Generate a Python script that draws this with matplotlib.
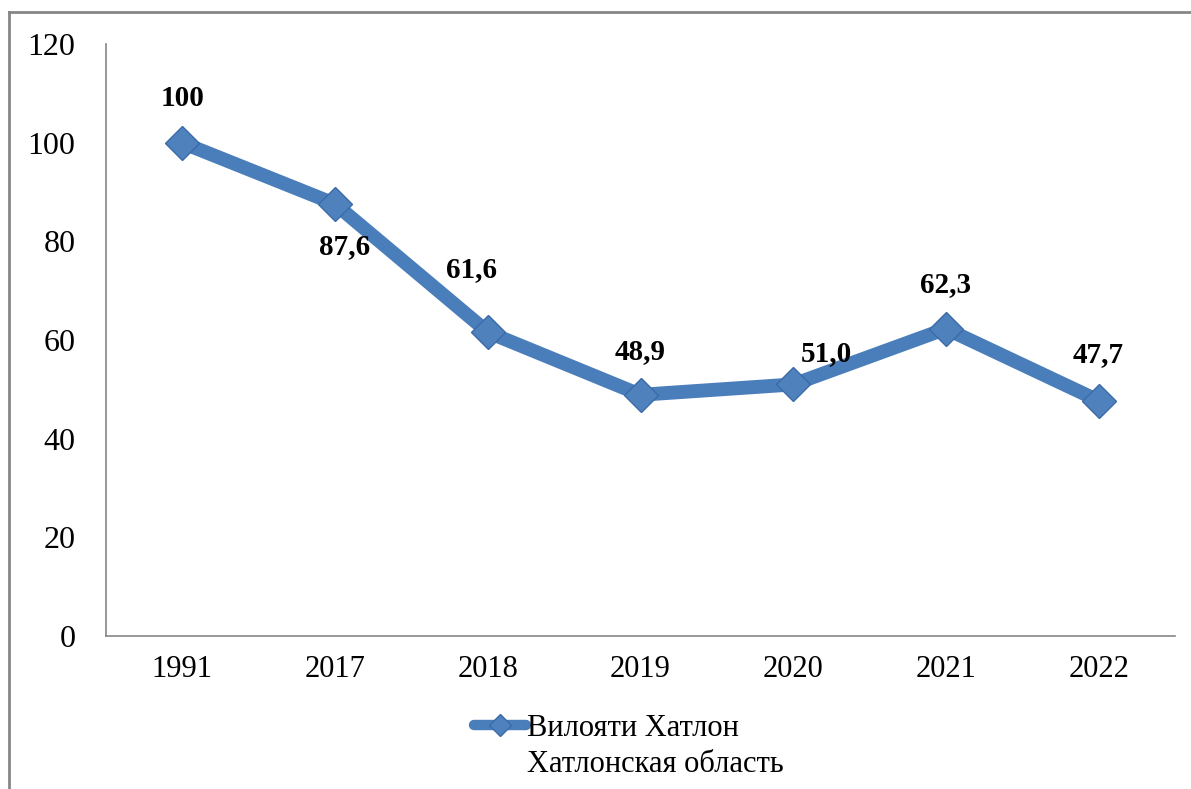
import matplotlib.pyplot as plt
from matplotlib.lines import Line2D

plt.rcParams['font.family'] = ['Liberation Serif', 'DejaVu Serif']

years = ["1991", "2017", "2018", "2019", "2020", "2021", "2022"]
values = [100, 87.6, 61.6, 48.9, 51.0, 62.3, 47.7]
value_labels = ["100", "87,6", "61,6", "48,9", "51,0", "62,3", "47,7"]
# label offsets in points (dx, dy)
offsets = [(0, 32), (7, -31), (-12, 45), (0, 31), (24, 22), (0, 32), (0, 33)]

blue = "#4A7EBB"
axis_gray = "#868686"

fig = plt.figure(figsize=(11.91, 7.89), dpi=100)
ax = fig.add_axes([0.089, 0.194, 0.8976, 0.75])

x = list(range(len(years)))
ax.plot(x, values, color=blue, lw=10, solid_joinstyle="round", solid_capstyle="round",
        marker="D", markersize=17, markerfacecolor="#4F81BD", markeredgecolor="#3A6BA8",
        markeredgewidth=1, zorder=3)

for xi, v, lab, off in zip(x, values, value_labels, offsets):
    ax.annotate(lab, (xi, v), xytext=off, textcoords="offset points",
                ha="center", va="center", fontsize=21, fontweight="bold", color="black")

ax.set_xlim(-0.5, len(years) - 0.5)
ax.set_ylim(0, 120)
ax.set_yticks(range(0, 121, 20))
ax.set_xticks(x)
ax.set_xticklabels(years)
ax.tick_params(axis="y", length=0, pad=22, labelsize=23)
ax.tick_params(axis="x", length=0, pad=14, labelsize=22)
for s in ["top", "right"]:
    ax.spines[s].set_visible(False)
for s in ["left", "bottom"]:
    ax.spines[s].set_color(axis_gray)
    ax.spines[s].set_linewidth(1.2)

# legend: first line with the handle, second line as plain text below it
handle = Line2D([], [], color=blue, lw=7.5, solid_capstyle="round",
                marker="D", markersize=11.5, markerfacecolor="#4F81BD",
                markeredgecolor="#3A6BA8")
leg = fig.legend([handle], ["Вилояти Хатлон"], loc="center left",
                 bbox_to_anchor=(0.385, 0.077), frameon=False, fontsize=22,
                 handlelength=1.7, handletextpad=0.05, borderpad=0)

fig.canvas.draw()
bb = leg.get_texts()[0].get_window_extent()
x0 = bb.x0 / fig.bbox.width
fig.text(x0, 0.031, "Хатлонская область", fontsize=22, ha="left", va="center")

# outer frame (left and top edges only, as cropped in the original)
fig.add_artist(Line2D([0.0075, 0.0075], [0, 0.985], transform=fig.transFigure,
                      color=axis_gray, lw=2))
fig.add_artist(Line2D([0.0075, 1.0], [0.985, 0.985], transform=fig.transFigure,
                      color=axis_gray, lw=2))

fig.savefig("out.png", dpi=100, facecolor="white")
